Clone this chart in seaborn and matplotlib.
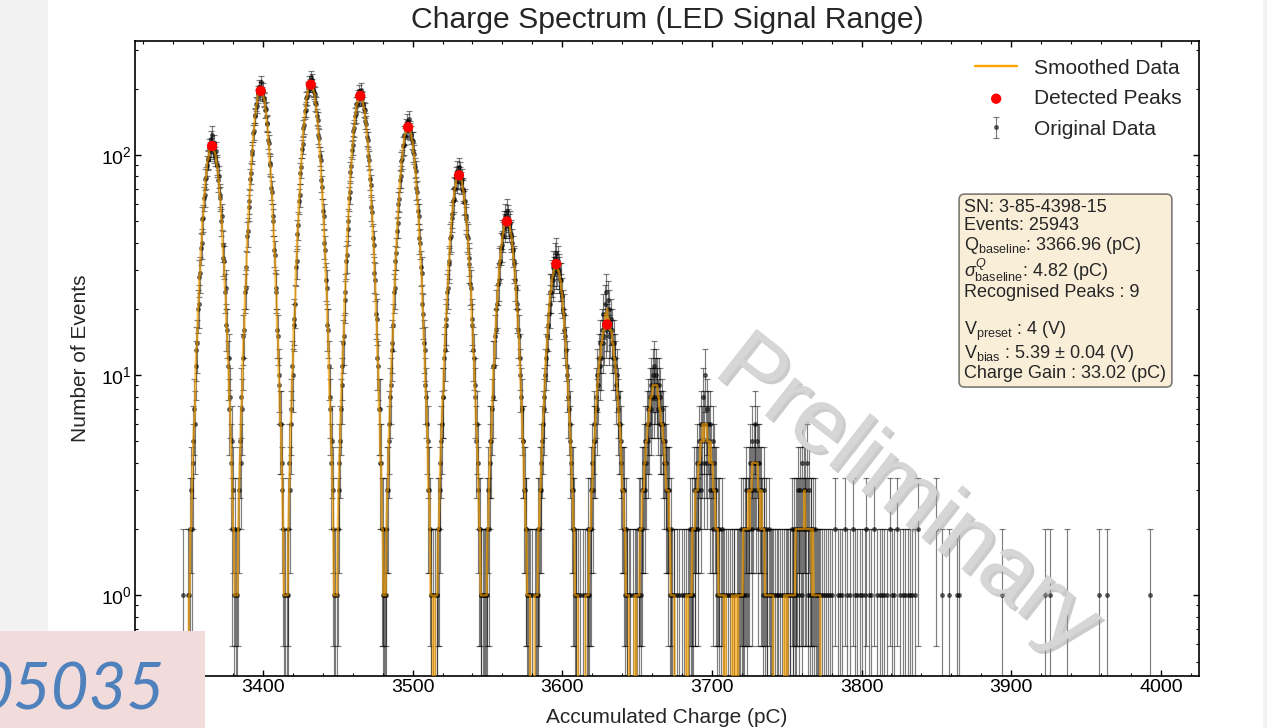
import numpy as np
import pandas as pd
import matplotlib
matplotlib.use("Agg")
import matplotlib.pyplot as plt
import matplotlib.patheffects as pe
from matplotlib.patches import Rectangle
from matplotlib.ticker import MultipleLocator
import seaborn as sns

# ---------------- data ----------------
BIN = 0.5  # pC per bin

# start charge (pC) of each 33 pC window around a photo-electron peak
window_starts = [3349.5, 3382.5, 3415.5, 3448.5, 3481.5, 3514.5, 3547.5,
                 3580.5, 3613.5, 3646.5, 3679.5, 3712.5, 3745.5]

peak0 = [0, 1, 1, 0, 2, 3, 2, 5, 4, 7, 6,
         11, 13, 14, 20, 21, 28, 29, 38, 40, 51, 52,
         64, 66, 78, 79, 90, 96, 95, 108, 104, 118, 109,
         124, 106, 113, 102, 99, 104, 89, 91, 77, 80, 64,
         66, 50, 53, 39, 34, 33, 24, 25, 17, 16, 11,
         12, 7, 8, 4, 5, 2, 3, 1, 2, 0, 1]
peak1 = [1, 0, 2, 3, 5, 4, 8, 7, 12, 15, 16,
         24, 25, 31, 43, 45, 58, 62, 78, 83, 101, 104,
         126, 129, 150, 152, 171, 168, 192, 187, 205, 194, 214,
         201, 190, 198, 178, 181, 160, 162, 139, 140, 117, 113,
         92, 90, 71, 68, 53, 50, 37, 35, 25, 24, 16,
         15, 10, 9, 6, 6, 3, 4, 2, 1, 0, 1]
peak2 = [0, 1, 2, 1, 4, 3, 7, 6, 11, 10, 17,
         18, 21, 31, 33, 44, 48, 62, 66, 83, 88, 107,
         112, 133, 137, 158, 161, 181, 183, 201, 199, 214, 208,
         226, 207, 219, 198, 193, 190, 172, 170, 150, 145, 124,
         120, 99, 95, 77, 72, 56, 53, 40, 37, 27, 25,
         17, 16, 11, 8, 7, 4, 5, 2, 3, 1, 1]
peak3 = [0, 0, 1, 2, 3, 4, 5, 7, 9, 11, 14,
         15, 22, 24, 33, 35, 46, 50, 64, 68, 84, 89,
         106, 111, 129, 133, 151, 153, 170, 171, 184, 181, 195,
         186, 198, 180, 183, 170, 162, 160, 143, 139, 121, 117,
         99, 95, 78, 73, 58, 55, 42, 39, 29, 27, 19,
         18, 12, 11, 7, 7, 4, 4, 2, 2, 1, 1]
peak4 = [1, 1, 2, 3, 3, 5, 6, 8, 9, 13, 14,
         17, 24, 25, 33, 36, 45, 49, 60, 63, 77, 80,
         94, 96, 110, 111, 124, 122, 134, 130, 142, 133, 146,
         129, 131, 124, 117, 116, 103, 101, 88, 85, 71, 68,
         56, 53, 42, 40, 31, 29, 21, 19, 14, 13, 9,
         8, 6, 5, 3, 3, 2, 1, 1, 0, 1, 0]
peak5 = [0, 1, 0, 1, 1, 2, 2, 3, 4, 5, 6,
         8, 8, 12, 13, 17, 18, 24, 25, 32, 33, 42,
         43, 52, 54, 62, 63, 71, 70, 79, 76, 85, 80,
         88, 79, 84, 75, 78, 69, 70, 61, 62, 53, 51,
         43, 42, 34, 32, 26, 25, 18, 17, 13, 12, 9,
         8, 5, 6, 3, 4, 2, 2, 1, 1, 0, 1]
peak6 = [1, 0, 1, 1, 2, 1, 3, 2, 4, 5, 5,
         7, 8, 11, 11, 15, 16, 20, 21, 26, 27, 32,
         33, 38, 39, 44, 43, 49, 47, 53, 49, 56, 50,
         52, 47, 49, 44, 43, 40, 37, 33, 32, 27, 25,
         21, 20, 16, 15, 12, 10, 8, 7, 5, 5, 3,
         3, 2, 2, 1, 1, 1, 0, 1, 0, 0, 1]
peak7 = [0, 0, 1, 0, 1, 1, 1, 2, 2, 3, 3,
         4, 5, 6, 7, 8, 10, 12, 13, 15, 17, 19,
         21, 24, 24, 28, 27, 31, 29, 34, 30, 36, 31,
         33, 29, 30, 27, 27, 24, 23, 20, 19, 16, 15,
         13, 11, 10, 8, 7, 6, 5, 4, 3, 3, 2,
         2, 1, 1, 1, 0, 1, 0, 0, 1, 0, 0]
peak8 = [0, 1, 0, 0, 1, 0, 1, 1, 2, 1, 2,
         3, 2, 4, 3, 5, 6, 5, 8, 7, 10, 9,
         12, 11, 14, 12, 16, 14, 19, 15, 21, 16, 24,
         17, 22, 15, 20, 16, 18, 14, 16, 12, 14, 11,
         12, 9, 10, 7, 8, 6, 6, 4, 5, 3, 3,
         2, 3, 1, 2, 1, 1, 0, 1, 0, 1, 0]
peak9 = [0, 1, 0, 0, 1, 0, 1, 1, 0, 2, 1,
         2, 1, 3, 2, 3, 4, 3, 5, 4, 6, 5,
         7, 6, 8, 7, 9, 8, 10, 8, 11, 9, 10,
         8, 9, 7, 9, 6, 8, 6, 7, 5, 6, 4,
         5, 3, 4, 3, 3, 2, 3, 1, 2, 1, 1,
         0, 1, 1, 0, 0, 1, 0, 0, 1, 0, 0]
peak10 = [0, 1, 0, 0, 1, 0, 0, 1, 0, 1, 1,
          0, 2, 1, 1, 2, 1, 3, 2, 2, 3, 4,
          3, 2, 5, 4, 6, 3, 5, 8, 4, 6, 10,
          5, 7, 4, 6, 5, 3, 6, 4, 3, 5, 2,
          4, 3, 2, 3, 1, 2, 2, 1, 0, 1, 2,
          0, 1, 1, 0, 0, 1, 0, 1, 0, 0, 1]
peak11 = [0, 0, 1, 0, 1, 1, 0, 0, 1, 0, 1,
          1, 0, 1, 2, 1, 1, 2, 1, 2, 2, 3,
          1, 2, 3, 2, 4, 3, 2, 5, 3, 4, 6,
          4, 3, 5, 4, 2, 4, 3, 2, 3, 2, 1,
          3, 2, 1, 2, 1, 1, 0, 2, 1, 0, 1,
          1, 0, 1, 0, 1, 0, 0, 1, 0, 1, 0]
peak12 = [1, 0, 0, 1, 0, 1, 0, 0, 1, 1, 0,
          1, 0, 1, 1, 0, 2, 1, 1, 2, 1, 2,
          1, 2, 3, 1, 2, 3, 2, 1, 4, 2, 3,
          2, 3, 2, 4, 1, 2, 3, 1, 2, 2, 1,
          2, 1, 0, 2, 1, 1, 0, 1, 1, 0, 1,
          0, 1, 0, 0, 1, 0, 1, 0, 0, 1, 0]

pre_x = [3346.5]
pre_counts = [1]

tail_x = [3779, 3780.5, 3782, 3784, 3785.5, 3787, 3789, 3790.5, 3792, 3794,
          3795.5, 3797, 3799, 3800.5, 3802, 3803, 3805, 3806.5, 3808, 3810,
          3812, 3813.5, 3815, 3817, 3819, 3820.5, 3822, 3824, 3826, 3827.5,
          3829, 3831, 3832.5, 3834, 3836, 3838, 3849.5, 3853.5, 3858.5, 3863.5,
          3865, 3894, 3922.5, 3926, 3937, 3959, 3964, 3992.5]
tail_counts = [1, 1, 2, 1, 1, 1, 2, 1, 1, 2,
               1, 1, 1, 1, 1, 2, 1, 1, 2, 1,
               1, 1, 1, 1, 2, 1, 1, 2, 1, 1,
               1, 1, 1, 1, 1, 2, 2, 1, 1, 1,
               1, 1, 1, 1, 1, 1, 1, 1]

peak_x = [3366, 3398.5, 3432, 3465, 3497, 3531, 3563, 3596, 3630]
peak_y = [110, 196, 209, 186, 134, 81, 50, 32, 17]

info_lines = [
    "SN: 3-85-4398-15",
    "Events: 25943",
    r"Q$_{\mathrm{baseline}}$: 3366.96 (pC)",
    r"$\sigma^{Q}_{\mathrm{baseline}}$: 4.82 (pC)",
    "Recognised Peaks : 9",
    "",
    r"V$_{\mathrm{preset}}$ : 4 (V)",
    r"V$_{\mathrm{bias}}$ : 5.39 $\pm$ 0.04 (V)",
    "Charge Gain : 33.02 (pC)",
]

# ---------------- assemble histogram ----------------
peaks = [peak0, peak1, peak2, peak3, peak4, peak5, peak6, peak7,
         peak8, peak9, peak10, peak11, peak12]
grid_x = np.arange(3344.0, 4000.0 + BIN / 2, BIN)
counts = np.zeros(len(grid_x))


def put(xs, cs):
    for x, c in zip(xs, cs):
        i = int(round((x - grid_x[0]) / BIN))
        if 0 <= i < len(counts):
            counts[i] = c


put(pre_x, pre_counts)
for start, chunk in zip(window_starts, peaks):
    put(start + BIN * np.arange(len(chunk)), chunk)
put(tail_x, tail_counts)

smoothed = pd.Series(counts).rolling(7, center=True, min_periods=1).median().to_numpy()

# ---------------- style ----------------
sns.set_theme(style="ticks")
plt.rcParams["font.family"] = ["Liberation Sans", "DejaVu Sans"]
plt.rcParams["mathtext.fontset"] = "custom"
plt.rcParams["mathtext.rm"] = "Liberation Sans"
plt.rcParams["mathtext.it"] = "Liberation Sans:italic"
plt.rcParams["mathtext.bf"] = "Liberation Sans:bold"

W, H = 1267, 728
fig = plt.figure(figsize=(W / 100, H / 100), dpi=100)
fig.patch.set_facecolor("white")

# slide background strips
fig.add_artist(Rectangle((0, 0), 48 / W, 1, transform=fig.transFigure,
                         facecolor="#f2f2f2", edgecolor="none", zorder=-5))
fig.add_artist(Rectangle((1263 / W, 0), 4 / W, 1, transform=fig.transFigure,
                         facecolor="#f2f2f2", edgecolor="none", zorder=-5))

ax = fig.add_axes([135 / W, 1 - 676 / H, (1199 - 135) / W, (676 - 41) / H])
ax.set_facecolor("white")

sns.lineplot(x=grid_x, y=smoothed, ax=ax, color="orange", lw=1.7, alpha=0.65,
             label="Smoothed Data", estimator=None, sort=False, zorder=4)
nz = counts > 0
ax.errorbar(grid_x[nz], counts[nz], yerr=np.sqrt(counts[nz]), fmt="o",
            color="black", ms=2.6, elinewidth=0.85, capsize=2, capthick=0.85,
            alpha=0.5, label="Original Data", zorder=3)
sns.scatterplot(x=peak_x, y=peak_y, ax=ax, color="red", s=55,
                edgecolor="none", label="Detected Peaks", zorder=5)

ax.set_yscale("log")
ax.set_xlim(3314.5, 4025.5)
ax.set_ylim(0.43, 330)
ax.xaxis.set_major_locator(MultipleLocator(100))
ax.xaxis.set_minor_locator(MultipleLocator(20))
ax.tick_params(which="both", direction="in", top=True, right=True,
               colors="black", labelsize=14)
ax.tick_params(which="major", length=4, width=1, pad=2)
ax.tick_params(which="minor", length=2.2, width=0.8)
for s in ax.spines.values():
    s.set_color("black")
    s.set_linewidth(1.2)

ax.set_title("Charge Spectrum (LED Signal Range)", fontsize=21.7, pad=9)
ax.set_xlabel("Accumulated Charge (pC)", fontsize=15, labelpad=9)
ax.set_ylabel("Number of Events", fontsize=15, labelpad=8)

leg = ax.legend(loc="upper right", frameon=False, fontsize=15, labelspacing=0.55,
                borderaxespad=0.45)
for h in leg.legend_handles:
    if hasattr(h, "set_alpha") and h.get_label() == "Smoothed Data":
        h.set_alpha(1)

ax.text(0.7796, 0.7504, "\n".join(info_lines), transform=ax.transAxes,
        fontsize=13, va="top", ha="left", linespacing=1.04, zorder=7,
        bbox=dict(boxstyle="round,pad=0.3", facecolor="wheat", alpha=0.5,
                  edgecolor="black", lw=1.2))

ax.text(0.7256, 0.2835, "Preliminary", transform=ax.transAxes, rotation=-38,
        rotation_mode="anchor", fontsize=66, color="#d6d6d6", ha="center",
        va="center", zorder=6,
        path_effects=[pe.withSimplePatchShadow(offset=(2, -2),
                                               shadow_rgbFace="#999999",
                                               alpha=0.5)])

# slide id box (bottom-left)
fig.add_artist(Rectangle((0, 0), 205 / W, (H - 631) / H, transform=fig.transFigure,
                         facecolor="#f2dcdb", edgecolor="none", zorder=10))
fig.text(165 / W, (H - 710) / H, "05035", ha="right", va="baseline",
         fontsize=47, style="italic", color="#4f81bd", family="Lato", zorder=11)

fig.savefig("out.png", dpi=100)
